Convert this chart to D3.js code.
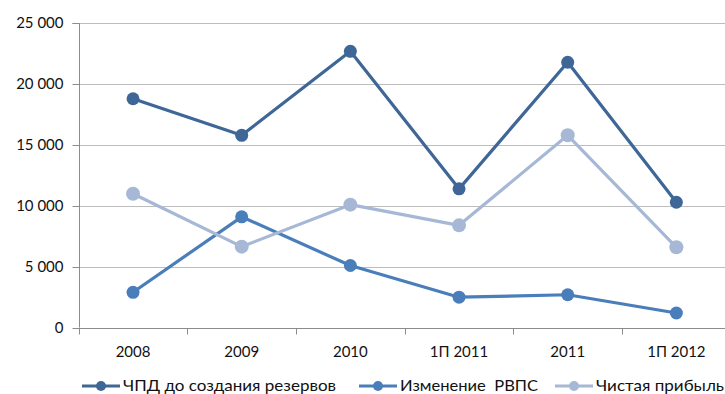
<!DOCTYPE html>
<html>
<head>
<meta charset="utf-8">
<script src="https://cdn.jsdelivr.net/npm/d3@7"></script>
<style>
  html, body { margin: 0; padding: 0; background: #fff; }
  svg { display: block; font-family: Lato, "Open Sans", sans-serif; }
</style>
</head>
<body>
<svg id="chart" width="725" height="394"></svg>
<script>
// Categories and series
const categories = ["2008", "2009", "2010", "1П 2011", "2011", "1П 2012"];
const seriesNames = ["ЧПД до создания резервов", "Изменение  РВПС", "Чистая прибыль"];
const npdValues = [18800, 15800, 22700, 11400, 21800, 10300];
const rvpsValues = [2900, 9100, 5100, 2500, 2700, 1200];
const profitValues = [11000, 6650, 10100, 8400, 15800, 6600];
const yTicks = [0, 5000, 10000, 15000, 20000, 25000];
const seriesColors = ["#3e6797", "#4a7ebb", "#a6b8d6"];

const series = [
  { name: seriesNames[0], values: npdValues, color: seriesColors[0], r: 6.5 },
  { name: seriesNames[1], values: rvpsValues, color: seriesColors[1], r: 6.5 },
  { name: seriesNames[2], values: profitValues, color: seriesColors[2], r: 7 }
];

const svg = d3.select("#chart");
const plotLeft = 78.7, plotRight = 730.7, plotTop = 23.3, plotBottom = 327.6;

const x = d3.scaleBand().domain(categories).range([plotLeft, plotRight]);
const y = d3.scaleLinear().domain([0, 25000]).range([plotBottom, plotTop]);

const fmt = v => d3.format(",")(v).replace(/,/g, " ");
const textColor = "#111";

// Horizontal gridlines
svg.append("g")
  .selectAll("line")
  .data(yTicks.filter(t => t > 0))
  .join("line")
  .attr("x1", plotLeft).attr("x2", plotRight)
  .attr("y1", d => Math.round(y(d)) + 0.5).attr("y2", d => Math.round(y(d)) + 0.5)
  .attr("stroke", "#bdbdbd").attr("stroke-width", 1);

// Y axis
const yAxis = d3.axisLeft(y).tickValues(yTicks).tickFormat(fmt).tickSize(7).tickPadding(9);
const gy = svg.append("g")
  .attr("transform", `translate(${Math.round(plotLeft) + 0.5},0)`)
  .call(yAxis);
gy.select(".domain").attr("stroke", "#8c8c8c").attr("d", `M-7,${Math.round(plotTop) + 0.5}H0V${plotBottom}`);
gy.selectAll(".tick line").attr("stroke", "#8c8c8c");
gy.selectAll(".tick").attr("transform", d => `translate(0,${Math.round(y(d)) + 0.5})`);
gy.selectAll("text").attr("fill", textColor).style("font-size", "15px").style("font-family", "Lato, sans-serif");

// X axis
const xAxis = d3.axisBottom(x).tickSize(0).tickPadding(18);
const gx = svg.append("g")
  .attr("transform", `translate(0,${Math.round(plotBottom) + 0.5})`)
  .call(xAxis);
gx.select(".domain").attr("stroke", "#8c8c8c").attr("d", `M${plotLeft},0H${plotRight}`);
gx.selectAll("text").attr("fill", textColor).style("font-size", "15px").style("font-family", "Lato, sans-serif");
// Category separators
gx.append("g")
  .selectAll("line")
  .data(categories)
  .join("line")
  .attr("x1", d => Math.round(x(d)) + 0.5).attr("x2", d => Math.round(x(d)) + 0.5)
  .attr("y1", 0).attr("y2", 6)
  .attr("stroke", "#8c8c8c");

// Lines and markers
const line = d3.line()
  .x((d, i) => x(categories[i]) + x.bandwidth() / 2)
  .y(d => y(d));

series.forEach(s => {
  svg.append("path")
    .datum(s.values)
    .attr("d", line)
    .attr("fill", "none")
    .attr("stroke", s.color)
    .attr("stroke-width", 3.2)
    .attr("stroke-linejoin", "round");
  svg.append("g")
    .selectAll("circle")
    .data(s.values)
    .join("circle")
    .attr("cx", (d, i) => x(categories[i]) + x.bandwidth() / 2)
    .attr("cy", d => y(d))
    .attr("r", s.r)
    .attr("fill", s.color);
});

// Legend
const legendY = 386;
const legendX = [82, 359, 555];
const legendTextWidth = [213, 138, 128];
const legend = svg.append("g");
series.forEach((s, i) => {
  const g = legend.append("g").attr("transform", `translate(${legendX[i]},${legendY})`);
  g.append("line").attr("x1", 0).attr("x2", 38).attr("y1", 0).attr("y2", 0)
    .attr("stroke", s.color).attr("stroke-width", 3.2);
  g.append("circle").attr("cx", 19).attr("cy", 0).attr("r", 5).attr("fill", s.color);
  g.append("text").attr("x", 41).attr("y", 4.5)
    .attr("fill", textColor).style("font-size", "15px")
    .style("white-space", "pre")
    .attr("textLength", legendTextWidth[i])
    .attr("lengthAdjust", "spacingAndGlyphs")
    .text(s.name);
});
</script>
</body>
</html>
